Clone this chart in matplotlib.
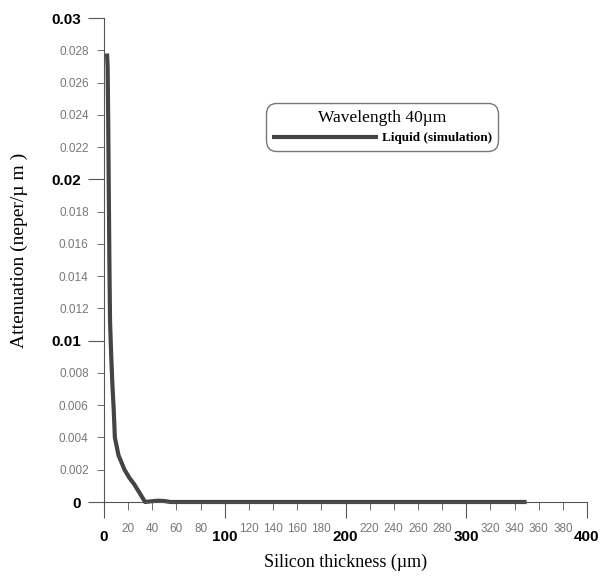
import matplotlib.pyplot as plt
from matplotlib.ticker import FixedLocator

# silicon thickness (um) and attenuation (neper/um)
thickness = [2.5, 3.0, 3.5, 4.0, 4.5, 5.0, 6.0, 7.0, 8.0, 9, 12, 17, 21, 25, 30, 34,
             40, 45, 50, 55, 100, 200, 350]
attenuation = [0.0278, 0.0270, 0.0235, 0.0190, 0.0146, 0.0112, 0.0090, 0.0072, 0.0058,
               0.0040, 0.0029, 0.0020, 0.0015, 0.0011, 0.0005, 0.0,
               0.00005, 0.00008, 0.00006, 0.0, 0.0, 0.0, 0.0]

x_major = [0, 100, 200, 300, 400]
x_minor = [v for v in range(20, 400, 20) if v % 100 != 0]
y_major = [0, 0.01, 0.02, 0.03]
y_major_labels = ["0", "0.01", "0.02", "0.03"]
y_minor = [0.002 * i for i in range(1, 15) if i % 5 != 0]
y_minor_labels = ["%.3f" % v for v in y_minor]

fig = plt.figure(figsize=(6.01, 5.77), dpi=100)
ax = fig.add_axes([104/601, 75/577, 483/601, 484/577])

ax.plot(thickness, attenuation, color="#444444", lw=3, solid_capstyle="butt",
        clip_on=False, label="Liquid (simulation)")

ax.set_xlim(0, 400)
ax.set_ylim(0, 0.03)
ax.spines["top"].set_visible(False)
ax.spines["right"].set_visible(False)
ax.spines["left"].set_color("#555555")
ax.spines["bottom"].set_color("#555555")

ax.xaxis.set_major_locator(FixedLocator(x_major))
ax.xaxis.set_minor_locator(FixedLocator(x_minor))
ax.set_xticklabels([str(v) for v in x_major], fontsize=11, fontweight="bold",
                   family="Liberation Sans")
ax.set_xticklabels([str(v) for v in x_minor], minor=True, fontsize=8.5,
                   color="#777777", family="Liberation Sans")
ax.tick_params(axis="x", which="major", length=11.5, pad=9, color="#555555")
ax.tick_params(axis="x", which="minor", length=6, pad=9, color="#555555")

ax.yaxis.set_major_locator(FixedLocator(y_major))
ax.yaxis.set_minor_locator(FixedLocator(y_minor))
ax.set_yticklabels(y_major_labels, fontsize=11, fontweight="bold",
                   family="Liberation Sans")
ax.set_yticklabels(y_minor_labels, minor=True, fontsize=8.5,
                   color="#777777", family="Liberation Sans")
ax.tick_params(axis="y", which="major", length=11.5, pad=5, color="#555555")
ax.tick_params(axis="y", which="minor", length=5, pad=6, color="#555555")

ax.set_xlabel("Silicon thickness (\u00b5m)", family="Liberation Serif", fontsize=13)
ax.xaxis.set_label_coords(0.5, -52/484)
ax.set_ylabel("Attenuation (neper/\u00b5 m )", family="Liberation Serif", fontsize=14)
ax.yaxis.set_label_coords(-76/483, 252/484)

leg = ax.legend(loc="center", bbox_to_anchor=(382/601, 1 - 127/577),
                bbox_transform=fig.transFigure, title="Wavelength 40\u00b5m",
                fancybox=True, frameon=True, handlelength=8, handletextpad=0.3,
                borderpad=0.5, prop={"family": "Liberation Serif", "weight": "bold",
                                     "size": 9.5})
leg.get_title().set_family("Liberation Serif")
leg.get_title().set_fontsize(12.5)
leg.get_frame().set_edgecolor("#555555")
leg.get_frame().set_linewidth(1)
leg.get_frame().set_boxstyle("round,pad=0,rounding_size=0.8")

fig.savefig("out.png", dpi=100)
